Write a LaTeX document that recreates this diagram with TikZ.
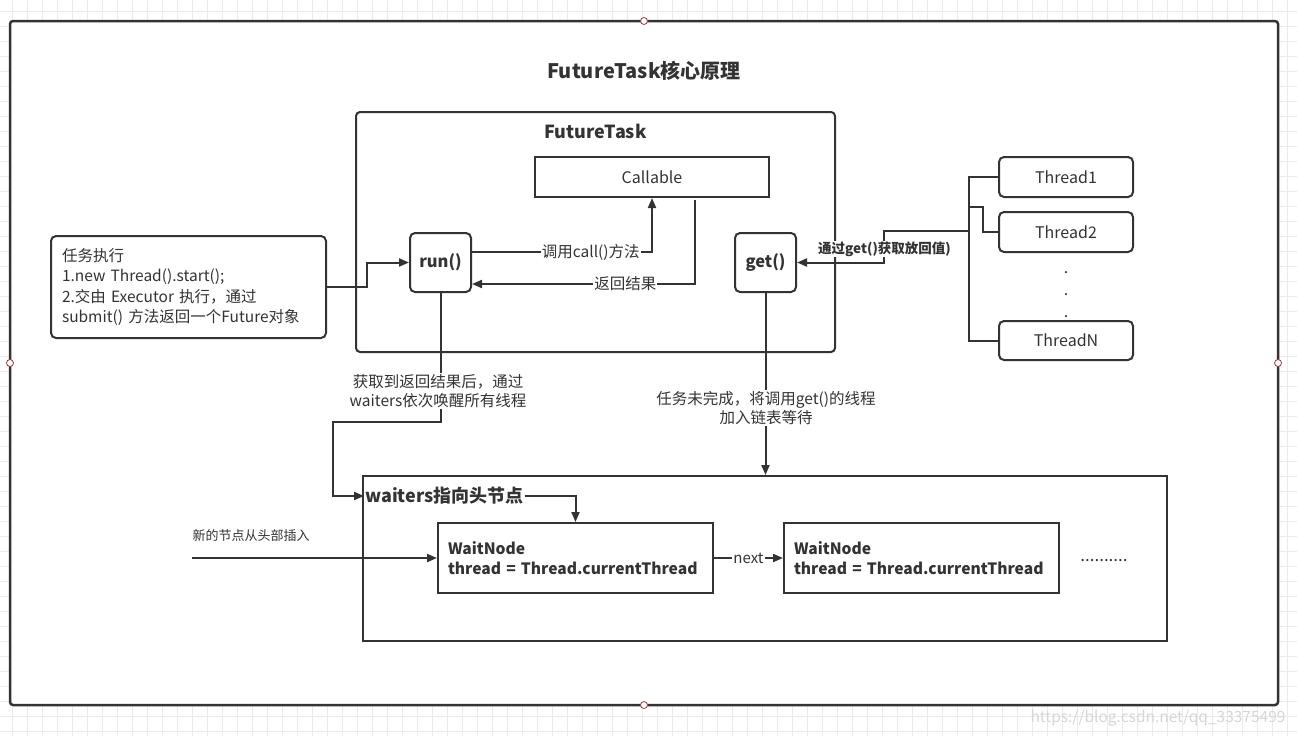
\documentclass[tikz,border=0pt]{standalone}
\usepackage{fontspec}
\setmainfont{Noto Sans CJK SC}
\usetikzlibrary{arrows.meta}
\definecolor{lc}{HTML}{333333}
\definecolor{gridc}{HTML}{EBEBEB}
\definecolor{hc}{HTML}{A33A3A}
\definecolor{wm}{HTML}{D6D6D6}
\newcommand\fsz[2]{\fontsize{#1}{#2}\selectfont}
\begin{document}
\begin{tikzpicture}[x=1pt,y=-1pt,
  ln/.style={draw=lc,line width=2pt},
  arr/.style={ln,-{Triangle[length=10pt,width=8pt]}},
  box/.style={draw=lc,line width=2pt,inner sep=0pt,text=lc,font=\fsz{16}{20}},
  rbox/.style={box,rounded corners=5pt},
  lbl/.style={fill=white,inner sep=1pt,text=lc,font=\fsz{15.5}{19.5}},
]
\useasboundingbox (0,0) rectangle (1297,736);
% background grid
\foreach \i in {0,...,86} { \draw[gridc,line width=1pt] (12+15*\i,0) -- (12+15*\i,736); }
\foreach \j in {0,...,49} { \draw[gridc,line width=1pt] (0,11+15*\j) -- (1297,11+15*\j); }
% outer frame
\node[draw=lc,line width=2.5pt,fill=white,rounded corners=3pt,minimum width=1268,minimum height=684,inner sep=0pt] (frame) at (644,363) {};
\foreach \p in {(644,21),(644,705),(10,363),(1278,363)} { \draw[hc,fill=white,line width=0.8pt] \p circle (3.5pt); }
\node[font=\bfseries\fsz{20}{24},text=lc] (title) at (644,71) {FutureTask核心原理};

% FutureTask container
\node[rbox,rounded corners=4pt,minimum width=479,minimum height=240] (ft) at (595.5,232) {};
\node[font=\bfseries\fsz{18}{22},text=lc] (ftl) at (595.5,131) {FutureTask};
\node[box,minimum width=234,minimum height=40] (call) at (652,177) {Callable};
\node[rbox,minimum width=61,minimum height=59,font=\bfseries\fsz{16.5}{20}] (run) at (440.5,262.5) {run()};
\node[rbox,minimum width=61,minimum height=59,font=\bfseries\fsz{16.5}{20}] (get) at (765.5,262.5) {get()};

% task box
\node[rbox,minimum width=275,minimum height=102,text width=253,align=left,font=\fsz{15.5}{20.5}] (task) at (188.5,287)
  {任务执行\\1.new Thread().start();\\2.交由 Executor 执行，通过\\submit() 方法返回一个Future对象};

% threads
\node[rbox,minimum width=134,minimum height=40] (t1) at (1066,177) {Thread1};
\node[rbox,minimum width=134,minimum height=40] (t2) at (1066,232) {Thread2};
\node[rbox,minimum width=134,minimum height=39] (tn) at (1066,340.5) {ThreadN};
\node[anchor=base,text=lc,font=\fsz{16}{20},inner sep=0pt] (d1) at (1066,273) {.};
\node[anchor=base,text=lc,font=\fsz{16}{20},inner sep=0pt] (d2) at (1066,295) {.};
\node[anchor=base,text=lc,font=\fsz{16}{20},inner sep=0pt] (d3) at (1066,317) {.};

% waiters container
\node[box,minimum width=804,minimum height=165] (wbox) at (765,558.5) {};
\node[box,minimum width=275,minimum height=70,text width=255,align=left,font=\bfseries\fsz{15.6}{20}] (wn1) at (575.5,558)
  {WaitNode\\\mbox{thread = Thread.currentThread}};
\node[box,minimum width=275,minimum height=70,text width=255,align=left,font=\bfseries\fsz{15.6}{20}] (wn2) at (921.5,558)
  {WaitNode\\\mbox{thread = Thread.currentThread}};
\node[anchor=west,inner sep=1pt,font=\bfseries\fsz{18}{22},text=lc] (wl) at (364,496) {waiters指向头节点};
\node[text=lc,font=\fsz{17}{20},anchor=base] (dots) at (1104,561) {..........};

% connectors
\draw[arr] (task.east) -- ++(40,0) |- (run.west);
\draw[arr] ([yshift=10.5pt]run.east) -| (call.south) node[lbl,pos=0.33] {调用call()方法};
\draw[arr] ([xshift=43pt,yshift=-2pt]call.south) |- ([yshift=-21.5pt]run.east) node[lbl,pos=0.656] {返回结果};

\coordinate (brt) at (969,177);
\coordinate (brb) at (969,340.5);
\coordinate (br2) at (969,207);
\coordinate (bg) at (969,231);
\draw[ln] (t1.west) -- (brt) -- (brb) -- (tn.west);
\draw[ln] (br2) -- (983,207) |- (t2.west);
\draw[arr] (bg) -- (884,231) |- (get.east);
\node[fill=white,inner sep=1pt,text=lc,font=\bfseries\fsz{13.5}{16}] (gl) at (884.5,249) {通过get()获取放回值)};

\draw[arr] (run.south) |- (333,422) |- (wl.west);
\node[lbl,align=center] (rl) at (438,391) {获取到返回结果后，通过\\waiters依次唤醒所有线程};
\draw[arr] (get.south) -- (get.south |- wbox.north);
\node[lbl,align=center] (gdl) at (766,408) {任务未完成，将调用get()的线程\\加入链表等待};

\draw[arr] (wl.east) -| (wn1.north);
\coordinate (ins) at (192,558);
\draw[arr] (ins) -- (wn1.west);
\node[text=lc,font=\fsz{13}{16}] (insl) at (251,536) {新的节点从头部插入};
\draw[arr] (wn1.east) -- (wn2.west) node[lbl,midway,font=\fsz{15}{18}] {next};

\node[text=wm,font=\fsz{15.5}{18},anchor=east] (wmk) at (1289,718) {https://blog.csdn.net/qq\_33375499};
\end{tikzpicture}
\end{document}
